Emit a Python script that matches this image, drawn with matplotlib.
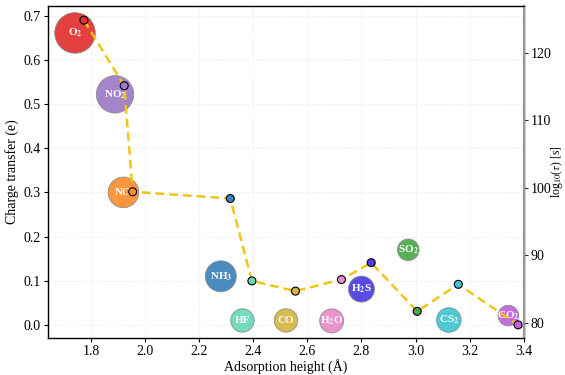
import matplotlib
matplotlib.use("Agg")
import matplotlib.pyplot as plt

plt.rcParams['font.family'] = ['Liberation Serif', 'DejaVu Serif']
plt.rcParams['mathtext.fontset'] = 'stix'

# molecules and their labels
molecules = ['O2', 'NO2', 'NO', 'NH3', 'HF', 'CO', 'H2O', 'H2S', 'SO2', 'CS2', 'CO2']
labels = [r'O$_\mathbf{2}$', r'NO$_\mathbf{2}$', 'NO', r'NH$_\mathbf{3}$', 'HF', 'CO',
          r'H$_\mathbf{2}$O', r'H$_\mathbf{2}$S', r'SO$_\mathbf{2}$', r'CS$_\mathbf{2}$',
          r'CO$_\mathbf{2}$']
colors = ['#e32f2f', '#9d7bc6', '#ff8c2c', '#3a82bb', '#66d8b8', '#d6b540',
          '#e88bc9', '#4c3de0', '#4aa849', '#3ec6d3', '#c261e0']

# bubbles: adsorption height vs charge transfer
bubble_height = [1.741, 1.889, 1.920, 2.280, 2.360, 2.521, 2.690, 2.800, 2.973, 3.123, 3.343]
charge_transfer = [0.661, 0.522, 0.300, 0.110, 0.010, 0.010, 0.009, 0.081, 0.170, 0.011, 0.021]
bubble_size = [853, 725, 485, 498, 284, 284, 299, 350, 242, 314, 220]

# recovery time line
tau_height = [1.774, 1.923, 1.954, 2.315, 2.395, 2.556, 2.726, 2.836, 3.006, 3.158, 3.379]
log_tau = [124.8, 115.1, 99.4, 98.4, 86.2, 84.7, 86.4, 88.9, 81.7, 85.7, 79.7]

fig, ax = plt.subplots(figsize=(5.65, 3.75), dpi=100)
fig.subplots_adjust(left=0.0844, right=0.927, top=0.984, bottom=0.0995)

ax.grid(True, color='#f0f0f0', linestyle='--', linewidth=0.6)
ax.set_axisbelow(True)
ax.scatter(bubble_height, charge_transfer, s=bubble_size, c=colors, alpha=0.92,
           edgecolors='#888888', linewidths=0.6, zorder=3)
for x, y, lab in zip(bubble_height, charge_transfer, labels):
    ax.text(x, y, lab, color='white', fontsize=8, fontweight='bold',
            ha='center', va='center', zorder=4)

ax.set_xlim(1.64, 3.4)
ax.set_ylim(-0.029, 0.722)
ax.set_xticks([1.8, 2.0, 2.2, 2.4, 2.6, 2.8, 3.0, 3.2, 3.4])
ax.set_yticks([0.0, 0.1, 0.2, 0.3, 0.4, 0.5, 0.6, 0.7])
ax.set_xlabel('Adsorption height (Å)', fontsize=10, labelpad=1)
ax.set_ylabel('Charge transfer (e)', fontsize=10, labelpad=3)
ax.tick_params(labelsize=10, length=3, width=0.8, pad=2)
for sp in ax.spines.values():
    sp.set_color('#333333')
    sp.set_linewidth(1.0)

ax2 = ax.twinx()
ax2.plot(tau_height, log_tau, color='#f0c419', linewidth=1.8,
         linestyle=(0, (3.5, 2)), zorder=2)
ax2.scatter(tau_height, log_tau, s=33, c=colors, edgecolors='black',
            linewidths=0.8, zorder=3)
ax2.set_ylim(77.8, 126.9)
ax2.set_yticks([80, 90, 100, 110, 120])
ax2.set_ylabel(r'log$_{10}$($\tau$) [s]', fontsize=8.5)
ax2.yaxis.set_label_coords(1.054, 0.5)
ax2.tick_params(labelsize=10, length=3, width=0.8, pad=2, colors='#333333',
                labelcolor='black')
ax2.spines['right'].set_color('#999999')
ax2.spines['right'].set_linewidth(1.6)

fig.savefig('out.png', dpi=100)
